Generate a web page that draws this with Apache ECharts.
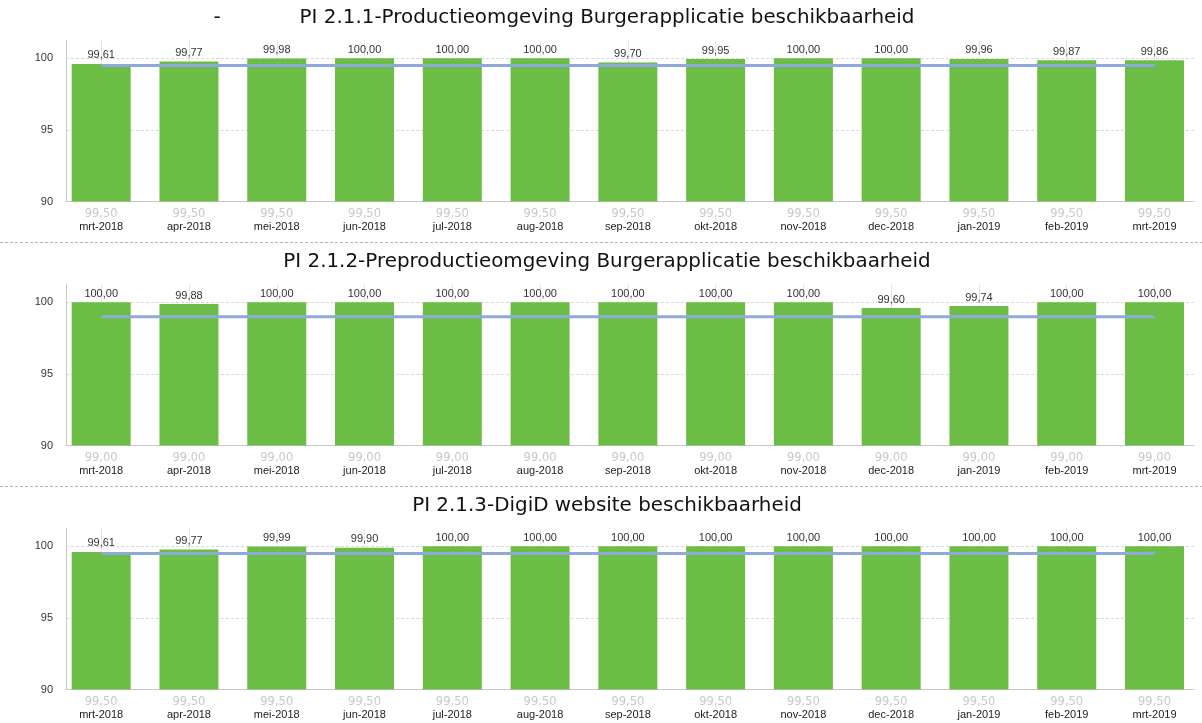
<!DOCTYPE html>
<html>
<head>
<meta charset="utf-8">
<script src="https://cdn.jsdelivr.net/npm/echarts@6/dist/echarts.min.js"></script>
<style>
html,body{margin:0;padding:0;background:#fff;}
#chart{width:1202px;height:723px;}
</style>
</head>
<body>
<div id="chart"></div>
<script>
// ---- data ----
const categories = ['mrt-2018','apr-2018','mei-2018','jun-2018','jul-2018','aug-2018','sep-2018','okt-2018','nov-2018','dec-2018','jan-2019','feb-2019','mrt-2019'];

const title1 = 'PI 2.1.1-Productieomgeving Burgerapplicatie beschikbaarheid';
const values1 = [99.61, 99.77, 99.98, 100.00, 100.00, 100.00, 99.70, 99.95, 100.00, 100.00, 99.96, 99.87, 99.86];
const target1 = [99.5, 99.5, 99.5, 99.5, 99.5, 99.5, 99.5, 99.5, 99.5, 99.5, 99.5, 99.5, 99.5];

const title2 = 'PI 2.1.2-Preproductieomgeving Burgerapplicatie beschikbaarheid';
const values2 = [100.00, 99.88, 100.00, 100.00, 100.00, 100.00, 100.00, 100.00, 100.00, 99.60, 99.74, 100.00, 100.00];
const target2 = [99.0, 99.0, 99.0, 99.0, 99.0, 99.0, 99.0, 99.0, 99.0, 99.0, 99.0, 99.0, 99.0];

const title3 = 'PI 2.1.3-DigiD website beschikbaarheid';
const values3 = [99.61, 99.77, 99.99, 99.90, 100.00, 100.00, 100.00, 100.00, 100.00, 100.00, 100.00, 100.00, 100.00];
const target3 = [99.5, 99.5, 99.5, 99.5, 99.5, 99.5, 99.5, 99.5, 99.5, 99.5, 99.5, 99.5, 99.5];

const yMin = 90, yMax = 101.25, yInterval = 5;

// ---- layout ----
const panels = [
  {title: title1, values: values1, target: target1},
  {title: title2, values: values2, target: target2},
  {title: title3, values: values3, target: target3}
];
const panelStep = 244;
const gridTop0 = 40.4;
const gridH = 161.2;
const frameLeft = 66, frameRight = 1194;
const barLeft = 101.2, barRight = 1154.5;
const titleFont = '"DejaVu Sans", Verdana, sans-serif';
const smallFont = '"Liberation Sans", Arial, sans-serif';

// fit title font size to reference width
function fitSize(text, targetW, base) {
  const c = document.createElement('canvas').getContext('2d');
  c.font = base + 'px ' + titleFont;
  return base * targetW / c.measureText(text).width;
}
const titleSize = Math.round(fitSize(title1, 616, 18) * 10) / 10;

const fmt = v => v.toFixed(2).replace('.', ',');

const grid = [], xAxis = [], yAxis = [], series = [], title = [], graphic = [];

panels.forEach((p, i) => {
  const top = gridTop0 + i * panelStep;
  grid.push({left: frameLeft, top: top, width: frameRight - frameLeft, height: gridH});
  grid.push({left: barLeft, top: top, width: barRight - barLeft, height: gridH});
  const gA = 2 * i, gB = 2 * i + 1;

  xAxis.push({
    gridIndex: gA, type: 'value', min: 0, max: 1,
    axisLine: {show: true, lineStyle: {color: '#c8c8c8', width: 1}},
    axisTick: {show: false}, axisLabel: {show: false}, splitLine: {show: false}
  });
  yAxis.push({
    gridIndex: gA, type: 'value', min: yMin, max: yMax, interval: yInterval,
    axisLine: {show: true, lineStyle: {color: '#c8c8c8', width: 1}},
    axisTick: {show: false},
    axisLabel: {show: true, showMaxLabel: false, color: '#333', fontSize: 11, fontFamily: smallFont, margin: 13},
    splitLine: {show: true, showMinLine: false, showMaxLine: false, lineStyle: {color: '#d8d8d8', type: [3, 2], width: 1}}
  });

  xAxis.push({
    gridIndex: gB, type: 'category', data: categories, boundaryGap: false,
    axisLine: {show: false}, axisTick: {show: false},
    splitLine: {show: true, interval: 0, lineStyle: {color: '#e6e6e6', width: 1}},
    axisLabel: {
      interval: 0, margin: 6,
      formatter: (val, idx) => '{t|' + fmt(p.target[idx]) + '}\n{c|' + val + '}',
      rich: {
        t: {color: '#c8c8c8', fontSize: 11.5, fontFamily: titleFont, lineHeight: 13},
        c: {color: '#222', fontSize: 11, fontFamily: smallFont, lineHeight: 13}
      }
    }
  });
  yAxis.push({gridIndex: gB, type: 'value', min: yMin, max: yMax, show: false, splitLine: {show: false}});

  // invisible base so the visible bar starts at the axis minimum
  series.push({
    type: 'bar', xAxisIndex: gB, yAxisIndex: gB, stack: 'p' + i, silent: true,
    data: p.values.map(() => yMin), barWidth: 59, clip: true, z: 1,
    itemStyle: {color: 'rgba(0,0,0,0)'}, label: {show: false}
  });
  series.push({
    type: 'bar', xAxisIndex: gB, yAxisIndex: gB, stack: 'p' + i,
    data: p.values.map(v => +(v - yMin).toFixed(4)), barWidth: 59, clip: false, z: 2,
    itemStyle: {color: '#6cbd45'},
    label: {show: true, position: 'top', distance: 3, formatter: d => fmt(p.values[d.dataIndex]),
      color: '#333', fontSize: 11, fontFamily: smallFont}
  });
  series.push({
    type: 'line', xAxisIndex: gB, yAxisIndex: gB,
    data: p.target, symbol: 'none', z: 3,
    lineStyle: {color: '#8eaad8', width: 3}, itemStyle: {color: '#8eaad8'}
  });

  title.push({
    text: p.title, left: 607, top: 18 + i * panelStep, textAlign: 'center', textVerticalAlign: 'middle',
    padding: 0,
    textStyle: {fontFamily: titleFont, fontSize: titleSize, fontWeight: 'normal', color: '#111'}
  });
});

title.push({
  text: '-', left: 217, top: 18, textAlign: 'center', textVerticalAlign: 'middle', padding: 0,
  textStyle: {fontFamily: titleFont, fontSize: titleSize, fontWeight: 'normal', color: '#111'}
});

[242.5, 486.5].forEach(y => {
  graphic.push({
    type: 'line', shape: {x1: 0, y1: y, x2: 1202, y2: y},
    style: {stroke: '#b4b4b4', lineWidth: 1, lineDash: [3, 2]}
  });
});

const chart = echarts.init(document.getElementById('chart'), null, {renderer: 'canvas'});
chart.setOption({
  animation: false,
  backgroundColor: '#fff',
  title, grid, xAxis, yAxis, series, graphic
});
</script>
</body>
</html>
